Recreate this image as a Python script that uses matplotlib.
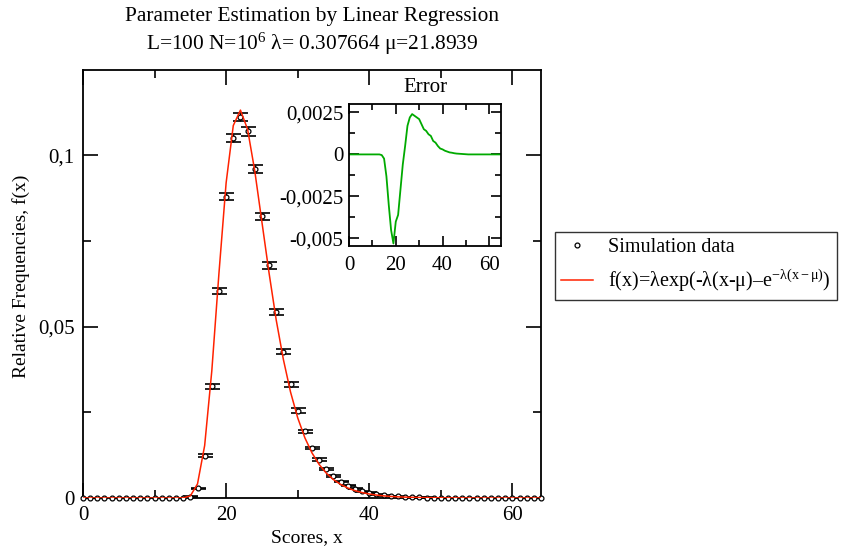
import numpy as np
import matplotlib
matplotlib.use("Agg")
import matplotlib.pyplot as plt
from matplotlib.ticker import MultipleLocator, FuncFormatter

plt.rcParams['font.family'] = ['Liberation Serif', 'DejaVu Serif']
plt.rcParams['mathtext.fontset'] = 'custom'
plt.rcParams['mathtext.rm'] = 'Liberation Serif'
plt.rcParams['mathtext.it'] = 'Liberation Serif:italic'

# simulation data, integer scores 0..64
scores = list(range(65))
freq = [0]*14 + [0.00004, 0.0004, 0.0028, 0.0123, 0.0326, 0.0603, 0.0879, 0.1050,
        0.1110, 0.1069, 0.0959, 0.0822, 0.0678, 0.0543, 0.0427, 0.0331, 0.0255,
        0.0194, 0.0146, 0.0112, 0.0085, 0.0065, 0.0048, 0.0036, 0.0027, 0.0019,
        0.0015, 0.0011, 0.0008, 0.0006, 0.00044, 0.00032, 0.00024, 0.00018,
        0.00013, 0.00009, 0.00006] + [0]*14
freq_err = [0]*15 + [0.0001, 0.0002, 0.0004, 0.0007, 0.0009, 0.0011, 0.0012,
            0.0012, 0.0012, 0.0011, 0.0010, 0.0009, 0.0008, 0.0007, 0.0007, 0.0006,
            0.0005, 0.0004, 0.0004, 0.0003, 0.0003, 0.00025, 0.0002, 0.0002,
            0.00015, 0.00013, 0.0001, 0.0001, 0.0001, 0.00008, 0.00007, 0.00006,
            0.00005, 0.00004, 0.00004, 0.00003] + [0]*14

# fitted Gumbel density at the same scores
fit = [0]*13 + [0.000001, 0.00004, 0.00061, 0.0041, 0.0153, 0.0371, 0.0656, 0.0919,
       0.1086, 0.1131, 0.1075, 0.0954, 0.0805, 0.0656, 0.0519, 0.0404, 0.0309,
       0.0234, 0.01757, 0.01314, 0.00977, 0.00725, 0.00536, 0.00396, 0.00292,
       0.00215, 0.00158, 0.00117, 0.00086, 0.00063, 0.00046, 0.00034, 0.00025,
       0.00019, 0.00014, 0.0001, 0.00007, 0.00005, 0.00004, 0.00003, 0.00002,
       0.00002] + [0]*10

# error (data - fit), inset
err_x = list(range(66))
err = [0]*14 + [-0.00004, -0.00025, -0.0013, -0.0030, -0.0045, -0.0053, -0.0040,
       -0.0036, -0.0021, -0.0006, 0.0005, 0.0017, 0.0022, 0.0024, 0.0023, 0.0022,
       0.0021, 0.0018, 0.0015, 0.0014, 0.0012, 0.0011, 0.0008, 0.0007, 0.0005,
       0.00035, 0.0003, 0.00022, 0.00017, 0.00012, 0.0001, 0.00007, 0.00005,
       0.00004, 0.00003, 0.00002, 0.00001] + [0]*15

lam, mu = 0.307664, 21.8939


def comma(v, pos):
    return ('%g' % v).replace('.', ',')


def style_axes(ax, major, minor, fs):
    for s in ax.spines.values():
        s.set_linewidth(1.3)
    ax.tick_params(which='both', direction='in', top=True, right=True,
                   width=1.2, labelsize=fs, pad=6)
    ax.tick_params(which='major', length=major)
    ax.tick_params(which='minor', length=minor)
    ax.yaxis.set_major_formatter(FuncFormatter(comma))


fig = plt.figure(figsize=(8.43, 5.48), dpi=100)
ax = fig.add_axes([83/843, 1-498/548, (541-83)/843, (498-70)/548])

x = np.array(scores)
y = np.array(freq)
ye = np.array(freq_err)
m = ye > 0
ax.errorbar(x[m], y[m], yerr=ye[m], fmt='none', ecolor='black', elinewidth=1,
            capsize=5.4, capthick=1.2, zorder=2)
ax.plot(x, y, 'o', ms=3.5, mfc='white', mec='black', mew=0.9, zorder=3,
        clip_on=False, label='Simulation data')
ax.plot(scores, fit, '-', color='#ff2200', lw=1.1, zorder=4,
        label='f(x)=λexp(-λ(x-μ)–e$^{\\mathrm{-λ(x-μ)}}$)')

ax.set_xlim(0, 64)
ax.set_ylim(0, 0.1248)
ax.xaxis.set_major_locator(MultipleLocator(20))
ax.xaxis.set_minor_locator(MultipleLocator(10))
ax.yaxis.set_major_locator(MultipleLocator(0.05))
ax.yaxis.set_minor_locator(MultipleLocator(0.025))
style_axes(ax, 11, 6, 15)
ax.set_xlabel('Scores, x', fontsize=14)
ax.set_ylabel('Relative Frequencies, f(x)', fontsize=14)
ax.xaxis.set_label_coords((307-83)/458, -0.072)
ax.yaxis.set_label_coords(-0.115, 0.518)

fig.text(312/843, 1-17/548, 'Parameter Estimation by Linear Regression',
         ha='center', va='center', fontsize=15.4)
fig.text(312/843, 1-44/548,
         'L=100 N=10$^{6}$ λ= %g μ=%g' % (lam, mu),
         ha='center', va='center', fontsize=15.4)

leg = fig.legend(loc='upper left', bbox_to_anchor=(555/843, 1-232/548),
                 borderaxespad=0, fontsize=14.5, fancybox=False, frameon=True,
                 edgecolor='black', handlelength=1.6, borderpad=0.3,
                 labelspacing=0.5, handletextpad=0.75)
leg.get_frame().set_linewidth(1.0)

# inset with the error
ins = fig.add_axes([349/843, 1-246/548, (501-349)/843, (246-104)/548])
ins.plot(err_x, err, color='#00aa00', lw=1.3)
ins.set_xlim(0, 65)
ins.set_ylim(-0.00545, 0.0030)
ins.xaxis.set_major_locator(MultipleLocator(20))
ins.xaxis.set_minor_locator(MultipleLocator(10))
ins.yaxis.set_major_locator(MultipleLocator(0.0025))
ins.yaxis.set_minor_locator(MultipleLocator(0.00125))
style_axes(ins, 7, 4, 15)
ins.tick_params(axis='x', pad=7)
ins.tick_params(axis='y', pad=4)
ins.set_title('Error', fontsize=15, pad=9)

fig.savefig('out.png', dpi=100)
